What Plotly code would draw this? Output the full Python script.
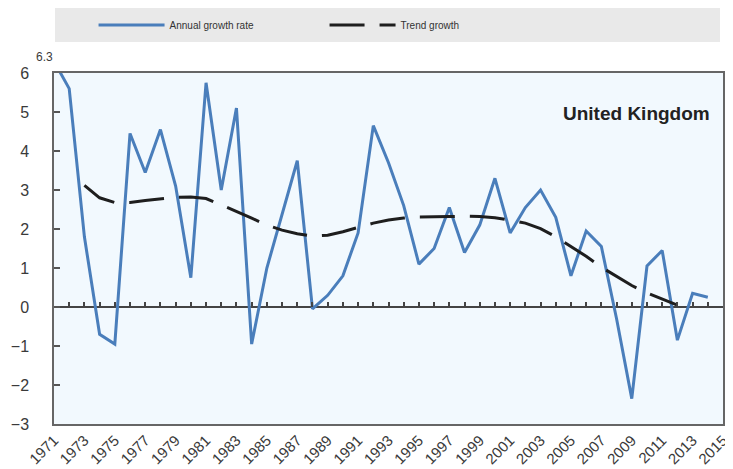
import plotly.graph_objects as go

# ---- data ----
years = list(range(1971, 2015))
annual_growth = [6.3, 5.6, 1.8, -0.7, -0.95, 4.45, 3.45, 4.55, 3.1, 0.75,
                 5.75, 3.0, 5.1, -0.95, 1.0, 2.4, 3.75, -0.05, 0.3, 0.8,
                 1.9, 4.65, 3.7, 2.6, 1.1, 1.5, 2.55, 1.4, 2.1, 3.3,
                 1.9, 2.55, 3.0, 2.3, 0.8, 1.95, 1.55, -0.3, -2.35, 1.05,
                 1.45, -0.85, 0.35, 0.25]

trend_years = list(range(1973, 2013))
trend_growth = [3.12, 2.80, 2.68, 2.68, 2.73, 2.77, 2.81, 2.82, 2.78, 2.62,
                2.46, 2.28, 2.10, 1.97, 1.88, 1.82, 1.84, 1.93, 2.04, 2.15,
                2.23, 2.28, 2.31, 2.31, 2.32, 2.33, 2.32, 2.29, 2.23, 2.15,
                2.01, 1.80, 1.55, 1.30, 1.02, 0.78, 0.55, 0.36, 0.20, 0.05]

tick_years = list(range(1971, 2016, 2))
tick_labels = [str(y) for y in tick_years]
y_ticks = list(range(-3, 7))

FONT = "Liberation Sans, Arial, sans-serif"
NARROW = "Liberation Sans Narrow, Arial Narrow, Liberation Sans, Arial, sans-serif"

fig = go.Figure()
fig.add_trace(go.Scatter(
    x=years, y=annual_growth, mode="lines", name="Annual growth rate",
    line=dict(color="#4A7EBB", width=3),
))
fig.add_trace(go.Scatter(
    x=trend_years, y=trend_growth, mode="lines", name="Trend growth",
    line=dict(color="#1e1e1e", width=3, dash="35px,15px"),
))
# helper trace so the zero-line tick axis is drawn
fig.add_trace(go.Scatter(
    x=[years[0]], y=[None], xaxis="x2", mode="lines",
    showlegend=False, hoverinfo="skip",
))

# the page body adds an 8px offset, so the figure is sized to fit the window
fig.update_layout(
    width=725, height=461,
    margin=dict(l=46, r=10, t=65, b=45),
    paper_bgcolor="white",
    plot_bgcolor="#F2F9FE",
    font=dict(family=FONT, color="#333333"),
    showlegend=True,
    legend=dict(
        orientation="h", xref="container", yref="container",
        x=0.118, xanchor="left", y=0.963, yanchor="middle",
        bgcolor="rgba(0,0,0,0)", font=dict(family=NARROW, size=10, color="#333333"),
        itemwidth=66, entrywidth=150, entrywidthmode="pixels",
    ),
    xaxis=dict(
        range=[1971, 2015], tickmode="array", tickvals=tick_years, ticktext=tick_labels,
        tickangle=-45, ticks="", showgrid=False, zeroline=False, automargin=False,
        showline=True, linecolor="#666666", linewidth=1.5, mirror=True,
        tickfont=dict(size=15, color="#3a3a3a"),
    ),
    xaxis2=dict(
        overlaying="x", anchor="free", position=1/3, range=[1971, 2015],
        tickmode="linear", tick0=1971, dtick=1, ticks="inside", ticklen=5,
        tickwidth=1.5, tickcolor="#444444", showticklabels=False, automargin=False,
        showline=False, showgrid=False, zeroline=False,
    ),
    yaxis=dict(
        range=[-3, 6], tickmode="array", tickvals=y_ticks, automargin=False,
        ticks="inside", ticklen=6, tickcolor="#555555", tickwidth=1.5,
        showgrid=False, zeroline=True, zerolinecolor="#444444", zerolinewidth=1.5,
        showline=True, linecolor="#666666", linewidth=1.5, mirror=True,
        tickfont=dict(size=16, color="#3a3a3a"), ticklabelstandoff=20,
    ),
    shapes=[dict(
        type="rect", xref="paper", yref="paper", x0=0.0015, x1=0.9955, y0=1.088, y1=1.185,
        fillcolor="#E9E9E9", line=dict(width=0), layer="below",
    )],
    annotations=[
        dict(text="<b>United Kingdom</b>", xref="paper", yref="paper", x=0.983, y=0.886,
             xanchor="right", yanchor="middle", showarrow=False,
             font=dict(size=19, color="#222222", family=FONT)),
        dict(text="6.3", xref="paper", yref="paper", x=0.0014, y=1.046,
             xanchor="right", yanchor="middle", showarrow=False,
             font=dict(size=12, color="#3a3a3a", family=NARROW)),
    ],
)

fig.write_html("out.html")
